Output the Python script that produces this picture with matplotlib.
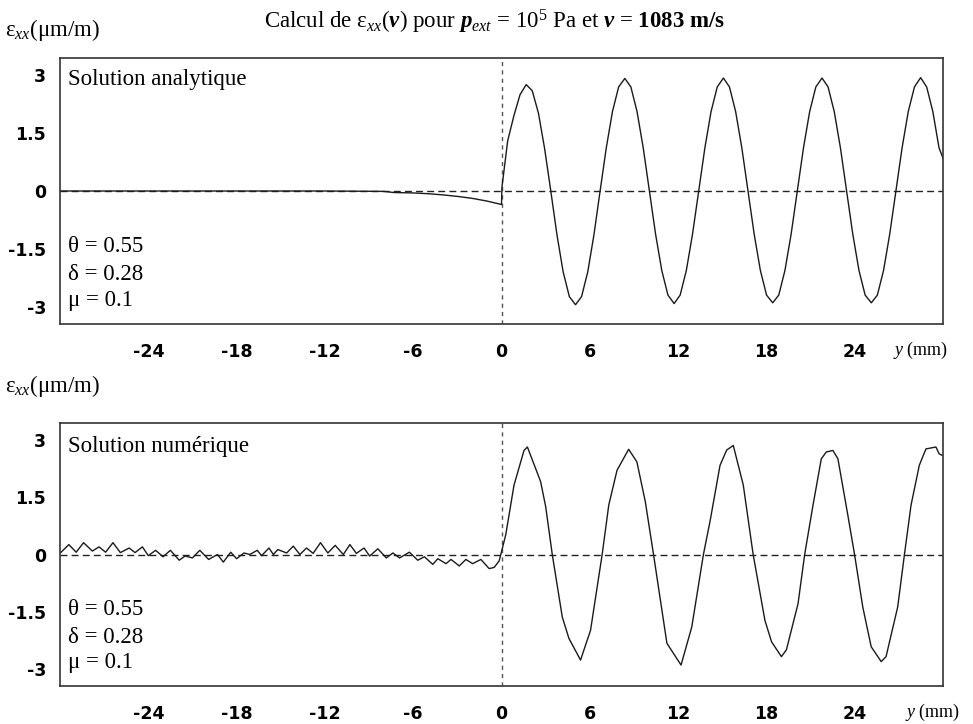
import matplotlib
matplotlib.use("Agg")
import matplotlib.pyplot as plt

plt.rcParams['mathtext.fontset'] = 'custom'
plt.rcParams['mathtext.rm'] = 'Liberation Serif'
plt.rcParams['mathtext.it'] = 'Liberation Serif:italic'
plt.rcParams['mathtext.bf'] = 'Liberation Serif:bold'
plt.rcParams['mathtext.bfit'] = 'Liberation Serif:bold:italic'

# ---- data ----
xticks = [-24, -18, -12, -6, 0, 6, 12, 18, 24]
yticks = [-3, -1.5, 0, 1.5, 3]
ytick_labels = ["-3", "-1.5", "0", "1.5", "3"]
params = ["θ = 0.55", "δ = 0.28", "μ = 0.1"]

# analytic solution
y_ana = [-30.0, -12.0, -8.0, -7.3, -6.0, -5.0, -4.0, -3.0, -2.0, -1.0,
         0.0, 0.03, 0.42, 0.84, 1.26, 1.68, 2.09, 2.51, 2.93,
         3.35, 3.77, 4.19, 4.61, 5.03, 5.44, 5.86, 6.28,
         6.70, 7.12, 7.54, 7.96, 8.38, 8.79, 9.21, 9.63,
         10.05, 10.47, 10.89, 11.31, 11.73, 12.14, 12.56, 12.98,
         13.40, 13.82, 14.24, 14.66, 15.08, 15.49, 15.91, 16.33,
         16.75, 17.17, 17.59, 18.01, 18.43, 18.84, 19.26, 19.68,
         20.10, 20.52, 20.94, 21.36, 21.78, 22.19, 22.61, 23.03,
         23.45, 23.87, 24.29, 24.71, 25.13, 25.54, 25.96, 26.38,
         26.80, 27.22, 27.64, 28.06, 28.48, 28.89, 29.31, 29.73, 30.0]
eps_ana = [0.0, 0.0, -0.01, -0.04, -0.05, -0.07, -0.10, -0.14, -0.19, -0.26,
           -0.35, 0.10, 1.30, 1.95, 2.50, 2.76, 2.60, 2.02, 1.10,
           0.0, -1.14, -2.10, -2.74, -2.95, -2.74, -2.10, -1.14,
           0.0, 1.12, 2.06, 2.70, 2.92, 2.70, 2.06, 1.12,
           0.0, -1.12, -2.06, -2.70, -2.92, -2.70, -2.06, -1.12,
           0.0, 1.12, 2.06, 2.70, 2.93, 2.70, 2.06, 1.12,
           0.0, -1.12, -2.06, -2.70, -2.90, -2.70, -2.06, -1.12,
           0.0, 1.12, 2.06, 2.70, 2.93, 2.70, 2.06, 1.12,
           0.0, -1.12, -2.06, -2.70, -2.90, -2.70, -2.06, -1.12,
           0.0, 1.12, 2.06, 2.70, 2.94, 2.70, 2.06, 1.12, 0.85]

# numerical solution
y_num = [-29.95, -29.4, -28.9, -28.4, -27.8, -27.35, -26.9, -26.4, -25.9, -25.3,
         -24.9, -24.4, -24.0, -23.5, -23.0, -22.5, -21.9, -21.5, -21.0, -20.5,
         -19.9, -19.3, -18.9, -18.4, -18.0, -17.5, -17.1, -16.6, -16.3, -15.8,
         -15.5, -15.2, -14.6, -14.15, -13.7, -13.25, -12.8, -12.3, -11.8, -11.3,
         -10.75, -10.3, -9.86, -9.34, -8.96, -8.4, -7.83, -7.38, -6.93, -6.26,
         -5.69, -5.24, -4.67, -4.33, -3.77, -3.43, -2.87, -2.42, -1.96, -1.40,
         -0.84, -0.50, -0.16, 0.07, 0.29, 0.85, 1.53, 1.76, 2.66, 3.0,
         3.45, 4.13, 4.58, 5.37, 6.05, 6.84, 7.29, 7.85, 8.64, 9.2,
         9.77, 10.33, 11.24, 12.2, 12.93, 13.72, 14.17, 14.85, 15.3, 15.75,
         16.43, 17.1, 17.9, 18.35, 19.02, 19.36, 20.15, 20.6, 21.17, 21.73,
         22.07, 22.52, 22.86, 23.53, 23.99, 24.55, 25.12, 25.8, 26.13, 26.92,
         27.38, 27.83, 28.39, 28.84, 29.52, 29.74, 29.95]
eps_num = [0.05, 0.26, 0.06, 0.31, 0.09, 0.20, 0.06, 0.31, 0.05, 0.17,
           0.05, 0.20, -0.03, 0.11, -0.06, 0.11, -0.15, -0.04, -0.09, 0.11,
           -0.13, 0.00, -0.20, 0.06, -0.11, 0.04, 0.00, 0.11, -0.03, 0.17,
           0.00, 0.13, 0.04, 0.22, 0.00, 0.17, 0.03, 0.31, 0.04, 0.24,
           0.00, 0.26, 0.03, 0.17, -0.04, 0.15, -0.09, 0.04, -0.09, 0.06,
           -0.15, -0.06, -0.26, -0.11, -0.24, -0.13, -0.30, -0.13, -0.24, -0.13,
           -0.37, -0.34, -0.17, 0.18, 0.52, 1.82, 2.73, 2.82, 1.91, 1.26,
           0.0, -1.64, -2.20, -2.77, -1.99, 0.0, 1.30, 2.21, 2.76, 2.43,
           1.39, 0.0, -2.33, -2.90, -1.90, 0.0, 0.87, 2.34, 2.74, 2.86,
           1.82, 0.0, -1.73, -2.29, -2.68, -2.50, -1.29, 0.0, 1.30, 2.51,
           2.69, 2.73, 2.51, 1.04, 0.0, -1.38, -2.42, -2.81, -2.68, -1.38,
           0.0, 1.30, 2.34, 2.77, 2.82, 2.64, 2.60]

W, H = 973, 724
fig = plt.figure(figsize=(W / 100, H / 100), dpi=100)
serif = "Liberation Serif"
fs = 16.5


def fx(px):
    return px / W


def fy(py):
    return 1 - py / H


def panel(top, bottom, xs, ys, name, name_y):
    ax = fig.add_axes([fx(60), fy(bottom), fx(943) - fx(60), fy(top) - fy(bottom)])
    ax.axhline(0, color="#222222", lw=1.0, ls=(0, (5, 3)), zorder=1)
    ax.axvline(0, color="#555555", lw=1.0, ls=(0, (3, 3)), zorder=1)
    ax.plot(xs, ys, color="#1a1a1a", lw=1.0, zorder=2)
    ax.set_xlim(-30, 30)
    ax.set_ylim(-3.45, 3.45)
    ax.set_xticks(xticks)
    ax.set_xticklabels([str(t) for t in xticks])
    ax.set_yticks(yticks)
    ax.set_yticklabels(ytick_labels)
    ax.tick_params(length=0, labelsize=12.5)
    ax.tick_params(axis="x", pad=14)
    ax.tick_params(axis="y", pad=10)
    for lab in ax.get_xticklabels() + ax.get_yticklabels():
        lab.set_fontweight("bold")
    for sp in ax.spines.values():
        sp.set_color("#333333")
        sp.set_linewidth(1.2)
    ax.text(0.009, name_y, name, transform=ax.transAxes, family=serif,
            fontsize=fs, va="center", ha="left")
    for txt, yy in zip(params, [0.292, 0.186, 0.09]):
        ax.text(0.009, yy, txt, transform=ax.transAxes, family=serif,
                fontsize=fs, va="center", ha="left")
    return ax


panel(58, 324, y_ana, eps_ana, "Solution analytique", 0.92)
panel(423, 686, y_num, eps_num, "Solution numérique", 0.91)

ylab = "ε$_{xx}$(μm/m)"
fig.text(fx(5), fy(30), ylab, family=serif, fontsize=fs, va="center", ha="left")
fig.text(fx(5), fy(386), ylab, family=serif, fontsize=fs, va="center", ha="left")

fig.text(fx(494), fy(22),
         r"Calcul de ε$_{xx}$($\mathbfit{v}$) pour $\mathbfit{p}_{ext}$ = 10$^{5}$ Pa et "
         r"$\mathbfit{v}$ = $\mathbf{1083\ m/s}$",
         family=serif, fontsize=fs, va="center", ha="center")

fig.text(fx(893), fy(350), "$y$ (mm)", family=serif, fontsize=13, va="center", ha="left")
fig.text(fx(905), fy(712), "$y$ (mm)", family=serif, fontsize=13, va="center", ha="left")

fig.savefig("out.png", dpi=100)
